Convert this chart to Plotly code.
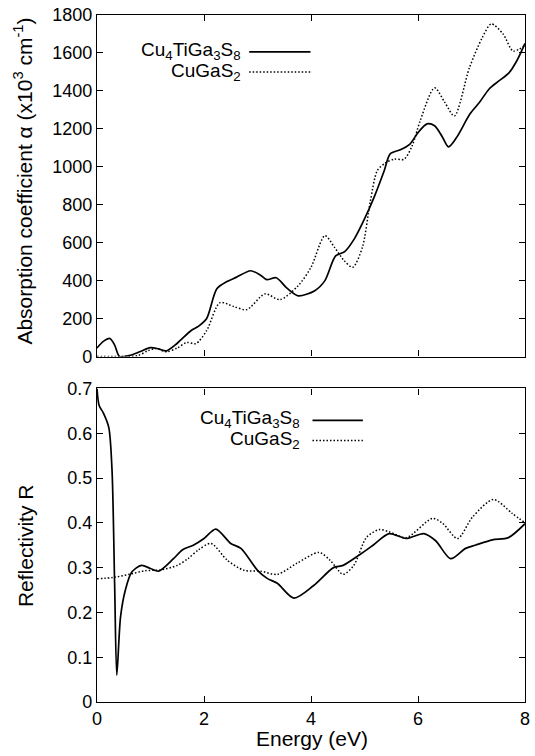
import plotly.graph_objects as go

# ---------------- data ----------------
abs_cuti_E = [0, 0.12, 0.24, 0.33, 0.42, 0.6, 0.8, 1.0, 1.15, 1.3, 1.5, 1.76, 1.9, 2.05, 2.24, 2.43, 2.6,
              2.87, 3.05, 3.17, 3.35, 3.55, 3.76, 4.07, 4.26, 4.46, 4.63, 4.81, 5.0, 5.19, 5.37, 5.48,
              5.67, 5.85, 6.0, 6.17, 6.31, 6.45, 6.57, 6.72, 6.97, 7.15, 7.33, 7.5, 7.7, 7.85, 8.0]
abs_cuti = [45, 80, 95, 60, 0, 5, 25, 47, 40, 30, 70, 137, 160, 200, 357, 395, 417,
            452, 430, 405, 415, 360, 320, 347, 400, 530, 553, 620, 725, 847, 980, 1068,
            1090, 1120, 1180, 1226, 1216, 1160, 1105, 1154, 1278, 1340, 1410, 1450, 1495, 1560, 1650]

abs_cuga_E = [0, 0.4, 0.76, 0.95, 1.1, 1.3, 1.5, 1.68, 1.85, 2.05, 2.3, 2.56, 2.8, 3.14, 3.42, 3.76,
              4.0, 4.26, 4.44, 4.62, 4.78, 4.96, 5.11, 5.24, 5.39, 5.55, 5.74, 5.89, 6.04, 6.31,
              6.5, 6.68, 6.96, 7.2, 7.37, 7.59, 7.78, 8.0]
abs_cuga = [0, 0, 5, 30, 42, 25, 45, 74, 68, 137, 284, 263, 247, 330, 300, 373,
            470, 637, 575, 505, 470, 575, 820, 980, 1020, 1040, 1040, 1110, 1242, 1416,
            1340, 1268, 1521, 1680, 1753, 1700, 1610, 1640]

ref_cuti_E = [0, 0.04, 0.12, 0.22, 0.28, 0.33, 0.37, 0.44, 0.53, 0.65, 0.83, 1.0, 1.15, 1.43, 1.6,
              1.8, 2.0, 2.22, 2.5, 2.69, 3.0, 3.18, 3.37, 3.68, 4.05, 4.42, 4.6, 4.9, 5.16, 5.46,
              5.78, 6.11, 6.33, 6.61, 6.89, 7.07, 7.39, 7.69, 8.0]
ref_cuti = [0.70, 0.662, 0.645, 0.613, 0.52, 0.26, 0.06, 0.19, 0.25, 0.29, 0.305, 0.298, 0.292, 0.32, 0.34,
            0.35, 0.365, 0.386, 0.354, 0.343, 0.294, 0.276, 0.265, 0.232, 0.26, 0.30, 0.305, 0.328, 0.35, 0.376,
            0.365, 0.376, 0.36, 0.32, 0.343, 0.35, 0.362, 0.367, 0.398]

ref_cuga_E = [0, 0.3, 0.6, 0.9, 1.2, 1.5, 1.7, 1.9, 2.13, 2.44, 2.75, 3.06, 3.37, 3.74, 4.15, 4.36,
              4.6, 4.8, 5.04, 5.28, 5.46, 5.78, 6.27, 6.46, 6.74, 7.02, 7.41, 7.76, 8.0]
ref_cuga = [0.275, 0.278, 0.285, 0.293, 0.295, 0.305, 0.32, 0.34, 0.354, 0.316, 0.294, 0.292, 0.285, 0.31, 0.334, 0.316,
            0.285, 0.305, 0.368, 0.385, 0.38, 0.367, 0.41, 0.399, 0.365, 0.413, 0.452, 0.421, 0.40]

label_cuti = "Cu<sub>4</sub>TiGa<sub>3</sub>S<sub>8</sub>"
label_cuga = "CuGaS<sub>2</sub>"
x_ticks = [0, 2, 4, 6, 8]
top_y_ticks = list(range(0, 1801, 200))
bot_y_ticks = [0, 0.1, 0.2, 0.3, 0.4, 0.5, 0.6, 0.7]

# ---------------- layout geometry ----------------
W, H = 535, 756
ML, MR, MT, MB = 97, 5, 14, 54
PW, PH = W - ML - MR, H - MT - MB


def px(x):
    return (x - ML) / PW


def py(y):
    return (H - MB - y) / PH


FONT = "Liberation Sans, Arial, Helvetica, sans-serif"

fig = go.Figure()
DOTS = "1.5px,2px"
line_solid = dict(color="black", width=1.7, shape="spline", smoothing=0.8)
line_dot = dict(color="black", width=1.5, dash=DOTS, shape="spline", smoothing=0.8)

fig.add_trace(go.Scatter(x=abs_cuti_E, y=abs_cuti, mode="lines", line=line_solid, xaxis="x", yaxis="y", showlegend=False))
fig.add_trace(go.Scatter(x=abs_cuga_E, y=abs_cuga, mode="lines", line=line_dot, xaxis="x", yaxis="y", showlegend=False))
fig.add_trace(go.Scatter(x=ref_cuti_E, y=ref_cuti, mode="lines", line=line_solid, xaxis="x2", yaxis="y2", showlegend=False))
fig.add_trace(go.Scatter(x=ref_cuga_E, y=ref_cuga, mode="lines", line=line_dot, xaxis="x2", yaxis="y2", showlegend=False))

axis_common = dict(showline=True, linecolor="black", linewidth=1.3, mirror="allticks", ticks="inside",
                   ticklen=6, tickwidth=1.2, tickcolor="black", showgrid=False, zeroline=False,
                   ticklabeloverflow="allow",
                   tickfont=dict(family=FONT, size=18, color="black"))

fig.update_layout(
    width=W, height=H,
    margin=dict(l=ML, r=MR, t=MT, b=MB),
    paper_bgcolor="white", plot_bgcolor="white",
    showlegend=False,
    xaxis=dict(domain=[0, 1], anchor="y", range=[0, 8], tickvals=x_ticks, showticklabels=False, **axis_common),
    yaxis=dict(domain=[py(356), 1], anchor="x", range=[0, 1800], tickvals=top_y_ticks, **axis_common),
    xaxis2=dict(domain=[0, 1], anchor="y2", range=[0, 8], tickvals=x_ticks, **axis_common),
    yaxis2=dict(domain=[0, py(388)], anchor="x2", range=[0, 0.7], tickvals=bot_y_ticks, **axis_common),
)

ann_font = dict(family=FONT, size=19, color="black")
title_font = dict(family=FONT, size=21, color="black")
annotations = [
    dict(text="Absorption coefficient α (x10<sup>3</sup> cm<sup>-1</sup>)", x=px(22), y=py(180),
         xref="paper", yref="paper", textangle=-90, showarrow=False, font=title_font,
         xanchor="center", yanchor="middle"),
    dict(text="Reflectivity R", x=px(24), y=py(545), xref="paper", yref="paper", textangle=-90,
         showarrow=False, font=title_font, xanchor="center", yanchor="middle"),
    dict(text="Energy (eV)", x=px(315), y=py(739), xref="paper", yref="paper", showarrow=False,
         font=title_font, xanchor="center", yanchor="middle"),
    # top legend
    dict(text=label_cuti, x=px(245), y=py(50), xref="paper", yref="paper", showarrow=False,
         font=ann_font, xanchor="right", yanchor="middle"),
    dict(text=label_cuga, x=px(245), y=py(71), xref="paper", yref="paper", showarrow=False,
         font=ann_font, xanchor="right", yanchor="middle"),
    # bottom legend
    dict(text=label_cuti, x=px(304), y=py(419), xref="paper", yref="paper", showarrow=False,
         font=ann_font, xanchor="right", yanchor="middle"),
    dict(text=label_cuga, x=px(304), y=py(440), xref="paper", yref="paper", showarrow=False,
         font=ann_font, xanchor="right", yanchor="middle"),
]
fig.update_layout(annotations=annotations)

shapes = [
    dict(type="line", xref="paper", yref="paper", x0=px(251), x1=px(313), y0=py(51), y1=py(51),
         line=dict(color="black", width=1.7)),
    dict(type="line", xref="paper", yref="paper", x0=px(251), x1=px(313), y0=py(71), y1=py(71),
         line=dict(color="black", width=1.5, dash=DOTS)),
    dict(type="line", xref="paper", yref="paper", x0=px(315), x1=px(366), y0=py(420), y1=py(420),
         line=dict(color="black", width=1.7)),
    dict(type="line", xref="paper", yref="paper", x0=px(315), x1=px(366), y0=py(440), y1=py(440),
         line=dict(color="black", width=1.5, dash=DOTS)),
]
fig.update_layout(shapes=shapes)

fig.write_html("out.html")
